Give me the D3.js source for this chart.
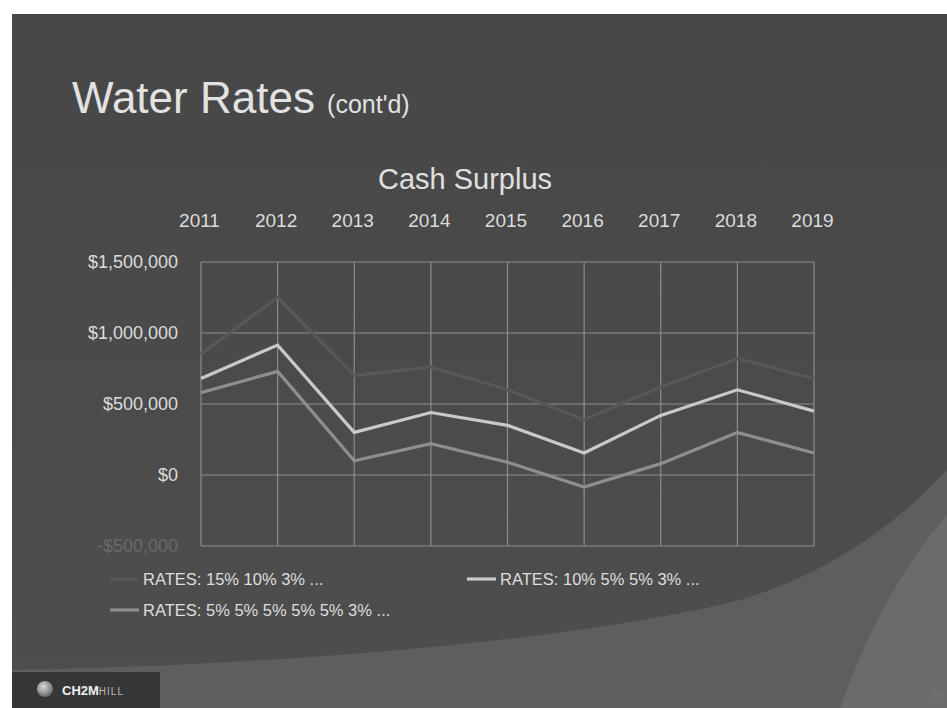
<!DOCTYPE html>
<html>
<head>
<meta charset="utf-8">
<script src="https://cdn.jsdelivr.net/npm/d3@7"></script>
<style>
  html, body { margin: 0; padding: 0; background: #ffffff; }
  svg { display: block; }
  text { font-family: "Liberation Sans", Arial, Helvetica, sans-serif; }
</style>
</head>
<body>
<div id="chart"></div>
<script>
// ---- data ----
const years = ["2011", "2012", "2013", "2014", "2015", "2016", "2017", "2018", "2019"];
const seriesNames = ["RATES: 15% 10% 3% ...", "RATES: 10% 5% 5% 3% ...", "RATES: 5% 5% 5% 5% 5% 3% ..."];
const rates15 = [850000, 1250000, 700000, 760000, 600000, 390000, 620000, 820000, 680000];
const rates10 = [680000, 915000, 300000, 440000, 350000, 155000, 420000, 600000, 450000];
const rates5  = [580000, 730000, 100000, 220000, 90000, -85000, 80000, 300000, 155000];
const yTicks = [-500000, 0, 500000, 1000000, 1500000];
const yTickLabels = ["-$500,000", "$0", "$500,000", "$1,000,000", "$1,500,000"];
const seriesColors = ["#585858", "#c9c9c9", "#8e8e8e"];

const W = 947, H = 708;
const svg = d3.select("#chart").append("svg").attr("width", W).attr("height", H);
const defs = svg.append("defs");

const bg = defs.append("linearGradient").attr("id", "bg").attr("x1", 0).attr("y1", 0).attr("x2", 0).attr("y2", 1);
bg.append("stop").attr("offset", "0%").attr("stop-color", "#474747");
bg.append("stop").attr("offset", "100%").attr("stop-color", "#4e4e4e");

const globe = defs.append("radialGradient").attr("id", "globe").attr("cx", "40%").attr("cy", "35%").attr("r", "65%");
globe.append("stop").attr("offset", "0%").attr("stop-color", "#d8d8d8");
globe.append("stop").attr("offset", "100%").attr("stop-color", "#6a6a6a");

// page / slide background
svg.append("rect").attr("x", 0).attr("y", 0).attr("width", W).attr("height", H).attr("fill", "#ffffff");
svg.append("rect").attr("x", 12).attr("y", 14).attr("width", W - 12).attr("height", H - 14).attr("fill", "url(#bg)");

// decorative swooshes at bottom right
svg.append("path")
  .attr("d", "M12,670 C300,664 580,640 740,600 C840,570 905,515 947,470 L947,708 L12,708 Z")
  .attr("fill", "#5e5e5e");
svg.append("path")
  .attr("d", "M840,708 C865,640 895,575 947,515 L947,708 Z")
  .attr("fill", "#6b6b6b");

// bottom logo bar
svg.append("rect").attr("x", 12).attr("y", 672).attr("width", 148).attr("height", 36).attr("fill", "#363636");
svg.append("circle").attr("cx", 45).attr("cy", 689).attr("r", 8).attr("fill", "url(#globe)");
const logo = svg.append("text").attr("x", 62).attr("y", 695).attr("fill", "#f0f0f0").attr("font-size", 13);
logo.append("tspan").attr("font-weight", "bold").text("CH2M");
logo.append("tspan").attr("font-size", 10).attr("fill", "#bdbdbd").attr("letter-spacing", 1).text("HILL");
svg.append("text").attr("x", 932).attr("y", 697).attr("fill", "#808080").attr("font-size", 8).text("10");

// title
const title = svg.append("text").attr("x", 72).attr("y", 113).attr("fill", "#e2e2e2");
title.append("tspan").attr("font-size", 44).text("Water Rates ");
title.append("tspan").attr("font-size", 25).text("(cont'd)");

svg.append("text").attr("x", 465).attr("y", 189).attr("text-anchor", "middle")
  .attr("fill", "#e0e0e0").attr("font-size", 29).text("Cash Surplus");

// scales
const x = d3.scalePoint().domain(years).range([201, 814]);
const y = d3.scaleLinear().domain([-500000, 1500000]).range([546, 262]);

// gridlines
const grid = svg.append("g").attr("stroke", "#8d8d8d").attr("stroke-width", 1.2);
grid.selectAll("line.v").data(years).join("line").attr("class", "v")
  .attr("x1", d => x(d)).attr("x2", d => x(d)).attr("y1", y(1500000)).attr("y2", y(-500000));
grid.selectAll("line.h").data(yTicks).join("line").attr("class", "h")
  .attr("x1", x(years[0])).attr("x2", x(years[years.length - 1])).attr("y1", d => y(d)).attr("y2", d => y(d));

// axes
const xAxis = svg.append("g").attr("transform", "translate(-2,227)")
  .call(d3.axisTop(x).tickSize(0).tickPadding(0));
xAxis.select(".domain").remove();
xAxis.selectAll("text").attr("fill", "#dcdcdc").attr("font-size", 19).attr("font-family", "Liberation Sans, Arial, sans-serif").attr("dy", "0em");

const yAxis = svg.append("g").attr("transform", `translate(${x(years[0])},0)`)
  .call(d3.axisLeft(y).tickValues(yTicks).tickSize(0).tickPadding(23).tickFormat((d, i) => yTickLabels[i]));
yAxis.select(".domain").remove();
yAxis.selectAll("text").attr("fill", (d) => d < 0 ? "#6a6a6a" : "#dcdcdc").attr("font-size", 18)
  .attr("font-family", "Liberation Sans, Arial, sans-serif");

// lines
const allSeries = [rates15, rates10, rates5];
const line = d3.line().x((d, i) => x(years[i])).y(d => y(d));
svg.append("g").selectAll("path").data(allSeries).join("path")
  .attr("d", d => line(d)).attr("fill", "none")
  .attr("stroke", (d, i) => seriesColors[i]).attr("stroke-width", 3.2)
  .attr("stroke-linejoin", "miter");

// legend
const legendPos = [{x: 110, y: 579}, {x: 467, y: 579}, {x: 110, y: 610}];
const lg = svg.append("g").selectAll("g").data(seriesNames).join("g")
  .attr("transform", (d, i) => `translate(${legendPos[i].x},${legendPos[i].y})`);
lg.append("line").attr("x1", 0).attr("x2", 29).attr("y1", 0).attr("y2", 0)
  .attr("stroke", (d, i) => seriesColors[i]).attr("stroke-width", 3.2);
lg.append("text").attr("x", 33).attr("y", 0).attr("dy", "0.35em")
  .attr("fill", "#dedede").attr("font-size", 16.5).text(d => d);
</script>
</body>
</html>
